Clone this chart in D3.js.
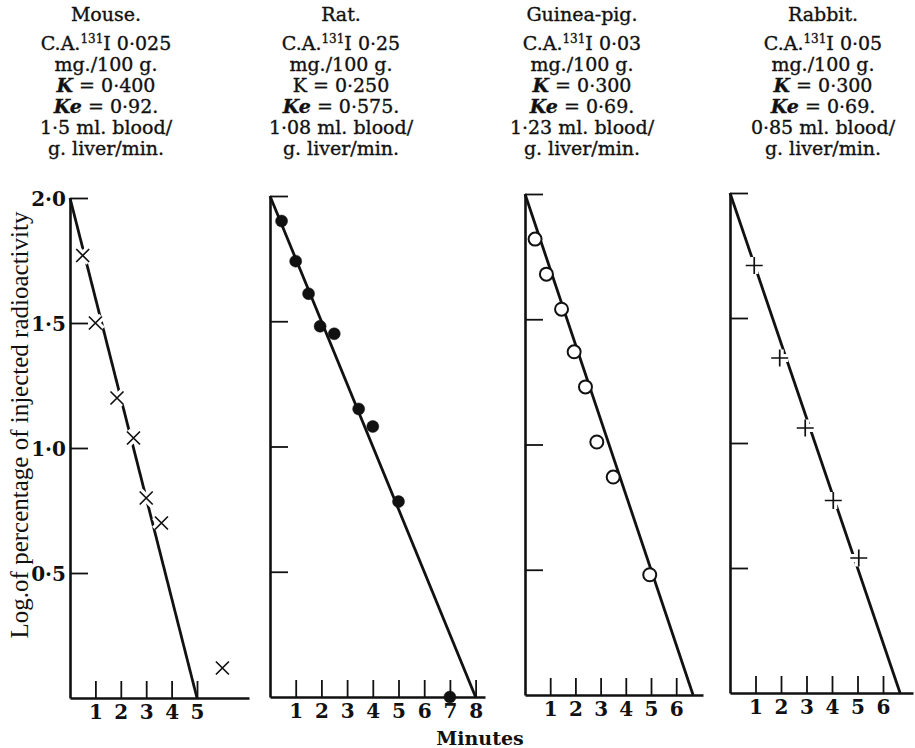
<!DOCTYPE html>
<html>
<head>
<meta charset="utf-8">
<script src="https://cdn.jsdelivr.net/npm/d3@7.9.0/dist/d3.min.js"></script>
<style>
  body { margin: 0; background: #fff; }
  svg { display: block; }
</style>
</head>
<body>
<svg id="chart"></svg>
<script>
// Values

const species = ['Mouse.', 'Rat.', 'Guinea-pig.', 'Rabbit.'];
const doses = ['0·025', '0·25', '0·03', '0·05'];
const kValues = ['0·400', '0·250', '0·300', '0·300'];
const kItalic = [true, false, true, true];
const keValues = ['0·92.', '0·575.', '0·69.', '0·69.'];
const flows = ['1·5', '1·08', '1·23', '0·85'];

const yTicks = [0.5, 1.0, 1.5, 2.0];
const yTickLabels = ['0·5', '1·0', '1·5', '2·0'];

const mouseTicks = [1, 2, 3, 4, 5];
const ratTicks = [1, 2, 3, 4, 5, 6, 7, 8];
const guineaTicks = [1, 2, 3, 4, 5, 6];
const rabbitTicks = [1, 2, 3, 4, 5, 6];

// minutes / log % of injected radioactivity
const mouseTime = [0.5, 1.0, 1.85, 2.5, 3.0, 3.6, 6.0];
const mouseLog = [1.77, 1.50, 1.20, 1.04, 0.80, 0.70, 0.12];
const ratTime = [0.45, 1.0, 1.5, 1.95, 2.5, 3.45, 4.0, 5.0, 7.0];
const ratLog = [1.90, 1.74, 1.61, 1.48, 1.45, 1.15, 1.08, 0.78, 0.0];
const guineaTime = [0.4, 0.85, 1.45, 1.95, 2.4, 2.85, 3.5, 4.95];
const guineaLog = [1.82, 1.68, 1.54, 1.37, 1.23, 1.01, 0.87, 0.48];
const rabbitTime = [0.95, 1.95, 2.95, 4.05, 5.05];
const rabbitLog = [1.71, 1.34, 1.06, 0.77, 0.54];

// fitted lines: [start, end] as [minutes, log]
const mouseFit = [[0, 2.0], [5.0, 0]];
const ratFit = [[0, 2.0], [8.0, 0]];
const guineaFit = [[0, 2.0], [6.67, 0]];
const rabbitFit = [[0, 2.0], [6.67, 0]];

const width = 915;
const height = 748;
const serif = '"DejaVu Serif", "Liberation Serif", serif';

const svg = d3.select('#chart')
  .attr('width', width)
  .attr('height', height)
  .style('font-family', serif);

const panels = [
  { x0: 70, perMin: 25.4, xEnd: 249, y0: 698, y2: 198, cx: 106,
    ticks: mouseTicks, time: mouseTime, log: mouseLog, fit: mouseFit, marker: 'x' },
  { x0: 270, perMin: 25.7, xEnd: 485, y0: 697, y2: 196, cx: 341,
    ticks: ratTicks, time: ratTime, log: ratLog, fit: ratFit, marker: 'dot' },
  { x0: 525, perMin: 25.2, xEnd: 703, y0: 695, y2: 194, cx: 582,
    ticks: guineaTicks, time: guineaTime, log: guineaLog, fit: guineaFit, marker: 'ring' },
  { x0: 730, perMin: 25.5, xEnd: 913, y0: 693, y2: 193, cx: 823,
    ticks: rabbitTicks, time: rabbitTime, log: rabbitLog, fit: rabbitFit, marker: 'plus' }
];

// ----------------------
// Headers
// ----------------------
const lineY = [21, 50, 71, 92, 113, 134, 155];
const headFont = 19;

panels.forEach((p, i) => {
  const g = svg.append('g')
    .attr('text-anchor', 'middle')
    .attr('font-size', headFont)
    .attr('fill', '#111')
    .attr('stroke', '#111')
    .attr('stroke-width', 0.35);

  g.append('text').attr('x', p.cx).attr('y', lineY[0]).text(species[i]);

  const ca = g.append('text').attr('x', p.cx).attr('y', lineY[1]);
  ca.append('tspan').text('C.A.');
  ca.append('tspan').attr('dy', -7).attr('font-size', 12).text('131');
  ca.append('tspan').attr('dy', 7).text('I ' + doses[i]);

  g.append('text').attr('x', p.cx).attr('y', lineY[2]).text('mg./100 g.');

  const k = g.append('text').attr('x', p.cx).attr('y', lineY[3]);
  k.append('tspan')
    .attr('font-style', kItalic[i] ? 'italic' : 'normal')
    .attr('font-weight', kItalic[i] ? 'bold' : 'normal')
    .text('K');
  k.append('tspan').text(' = ' + kValues[i]);

  const ke = g.append('text').attr('x', p.cx).attr('y', lineY[4]);
  ke.append('tspan').attr('font-style', 'italic').attr('font-weight', 'bold').text('Ke');
  ke.append('tspan').text(' = ' + keValues[i]);

  g.append('text').attr('x', p.cx).attr('y', lineY[5]).text(flows[i] + ' ml. blood/');
  g.append('text').attr('x', p.cx).attr('y', lineY[6]).text('g. liver/min.');
});

// ----------------------
// Panels
// ----------------------
panels.forEach((p, i) => {
  const xScale = d3.scaleLinear()
    .domain([0, (p.xEnd - p.x0) / p.perMin])
    .range([p.x0, p.xEnd]);
  const yScale = d3.scaleLinear()
    .domain([0, 2])
    .range([p.y0, p.y2]);

  // x axis: ticks point up, bold digits below
  const xAxis = svg.append('g')
    .attr('transform', `translate(0,${p.y0})`)
    .call(d3.axisBottom(xScale)
      .tickValues(p.ticks)
      .tickFormat(d3.format('d'))
      .tickSizeInner(-17)
      .tickSizeOuter(0)
      .tickPadding(7));

  // y axis: ticks point right, labels on the mouse panel only
  const yAxis = svg.append('g')
    .attr('transform', `translate(${p.x0},0)`)
    .call(d3.axisLeft(yScale)
      .tickValues(yTicks)
      .tickFormat((d, j) => i === 0 ? yTickLabels[j] : '')
      .tickSizeInner(-18)
      .tickSizeOuter(0)
      .tickPadding(4));

  [xAxis, yAxis].forEach(ax => {
    ax.select('.domain').attr('stroke', '#111').attr('stroke-width', 2.6);
    ax.selectAll('.tick line').attr('stroke', '#111').attr('stroke-width', 1.8);
    ax.selectAll('.tick text')
      .attr('fill', '#111')
      .attr('font-family', serif)
      .attr('font-weight', 'bold')
      .attr('font-size', 20);
  });
  yAxis.selectAll('.tick text').attr('dy', '0.36em');

  // fitted regression line
  svg.append('path')
    .datum(p.fit)
    .attr('d', d3.line().x(d => xScale(d[0])).y(d => yScale(d[1])))
    .attr('fill', 'none')
    .attr('stroke', '#111')
    .attr('stroke-width', 2.8);

  // observed points
  const pts = p.time.map((t, j) => [t, p.log[j]]);
  const marks = svg.append('g');

  if (p.marker === 'x' || p.marker === 'plus') {
    const s = p.marker === 'x' ? 6.5 : 8.5;
    const path = p.marker === 'x'
      ? `M${-s},${-s}L${s},${s}M${-s},${s}L${s},${-s}`
      : `M${-s},0L${s},0M0,${-s}L0,${s}`;
    const node = marks.selectAll('g')
      .data(pts)
      .join('g')
      .attr('transform', d => `translate(${xScale(d[0])},${yScale(d[1])})`);
    // white halo breaks the line around each mark, as in print
    node.append('path').attr('d', path)
      .attr('stroke', '#fff').attr('stroke-width', 8).attr('fill', 'none');
    node.append('path').attr('d', path)
      .attr('stroke', '#111').attr('stroke-width', 1.7).attr('fill', 'none');
  } else {
    marks.selectAll('circle')
      .data(pts)
      .join('circle')
      .attr('cx', d => xScale(d[0]))
      .attr('cy', d => yScale(d[1]))
      .attr('r', p.marker === 'dot' ? 6 : 6.5)
      .attr('fill', p.marker === 'dot' ? '#111' : '#fff')
      .attr('stroke', '#111')
      .attr('stroke-width', p.marker === 'dot' ? 0.5 : 2);
  }
});

// ----------------------
// Axis titles
// ----------------------
svg.append('text')
  .attr('transform', 'translate(28,425) rotate(-90)')
  .attr('text-anchor', 'middle')
  .attr('font-family', '"Liberation Serif", serif')
  .attr('font-size', 25)
  .attr('fill', '#111')
  .text('Log.of percentage of injected radioactivity');

svg.append('text')
  .attr('x', 480)
  .attr('y', 745)
  .attr('text-anchor', 'middle')
  .attr('font-size', 19)
  .attr('font-weight', 'bold')
  .attr('fill', '#111')
  .text('Minutes');
</script>
</body>
</html>
